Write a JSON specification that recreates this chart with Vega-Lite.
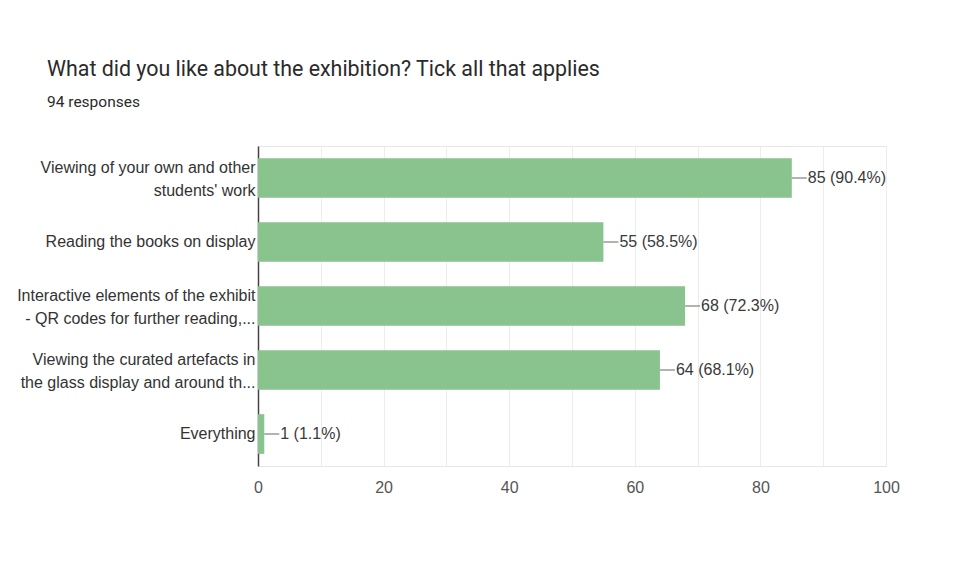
{
  "$schema": "https://vega.github.io/schema/vega-lite/v6.json",
  "autosize": {"type": "none"},
  "width": 628,
  "height": 320,
  "padding": {"left": 258, "top": 146, "right": 93, "bottom": 100},
  "background": "white",
  "title": {
    "text": "What did you like about the exhibition? Tick all that applies",
    "subtitle": "94 responses",
    "anchor": "start",
    "frame": "group",
    "dx": -211,
    "offset": 36,
    "font": "Roboto",
    "fontSize": 21.4,
    "fontWeight": "normal",
    "color": "#2a2a2a",
    "subtitleFont": "Roboto",
    "subtitleFontSize": 15.5,
    "subtitleColor": "#2a2a2a",
    "subtitlePadding": 14
  },
  "data": {
    "values": [
      {"option": "Viewing of your own and other|students' work", "count": 85, "label": "85 (90.4%)"},
      {"option": "Reading the books on display", "count": 55, "label": "55 (58.5%)"},
      {"option": "Interactive elements of the exhibit|- QR codes for further reading,...", "count": 68, "label": "68 (72.3%)"},
      {"option": "Viewing the curated artefacts in|the glass display and around th...", "count": 64, "label": "64 (68.1%)"},
      {"option": "Everything", "count": 1, "label": "1 (1.1%)"}
    ]
  },
  "encoding": {
    "y": {
      "field": "option",
      "type": "nominal",
      "sort": null,
      "title": null,
      "scale": {"paddingInner": 0.38, "paddingOuter": 0.19},
      "axis": {
        "labelExpr": "split(datum.label, '|')",
        "labelFont": "Liberation Sans",
        "labelFontSize": 16,
        "labelColor": "#333333",
        "labelLineHeight": 23,
        "labelPadding": 3,
        "labelLimit": 300,
        "labelOffset": {"condition": {"test": "indexof(datum.label, '|') >= 0", "value": -10}, "value": 0},
        "ticks": false,
        "domainColor": "#444444",
        "domainWidth": 1.5,
        "grid": false
      }
    }
  },
  "layer": [
    {
      "mark": {"type": "bar", "color": "#89c38d"},
      "encoding": {
        "x": {
          "field": "count",
          "type": "quantitative",
          "title": null,
          "scale": {"domain": [0, 100], "nice": false},
          "axis": {
            "values": [0, 10, 20, 30, 40, 50, 60, 70, 80, 90, 100],
            "labelExpr": "datum.value % 20 == 0 ? datum.label : ''",
            "labelFont": "Liberation Sans",
            "labelFontSize": 16,
            "labelColor": "#555555",
            "labelPadding": 13,
            "labelFlush": false,
            "ticks": false,
            "domainColor": "#e6e6e6",
            "gridColor": "#ececec",
            "grid": true
          }
        }
      }
    },
    {
      "mark": {"type": "rule", "color": "#9a9a9a", "strokeWidth": 1.5, "x2Offset": 15},
      "encoding": {
        "x": {"field": "count", "type": "quantitative"},
        "x2": {"field": "count"}
      }
    },
    {
      "mark": {"type": "text", "align": "left", "baseline": "middle", "dx": 16, "font": "Liberation Sans", "fontSize": 16, "color": "#3a3a3a"},
      "encoding": {
        "x": {"field": "count", "type": "quantitative"},
        "text": {"field": "label"}
      }
    }
  ],
  "config": {
    "view": {"stroke": "#e6e6e6"}
  }
}
